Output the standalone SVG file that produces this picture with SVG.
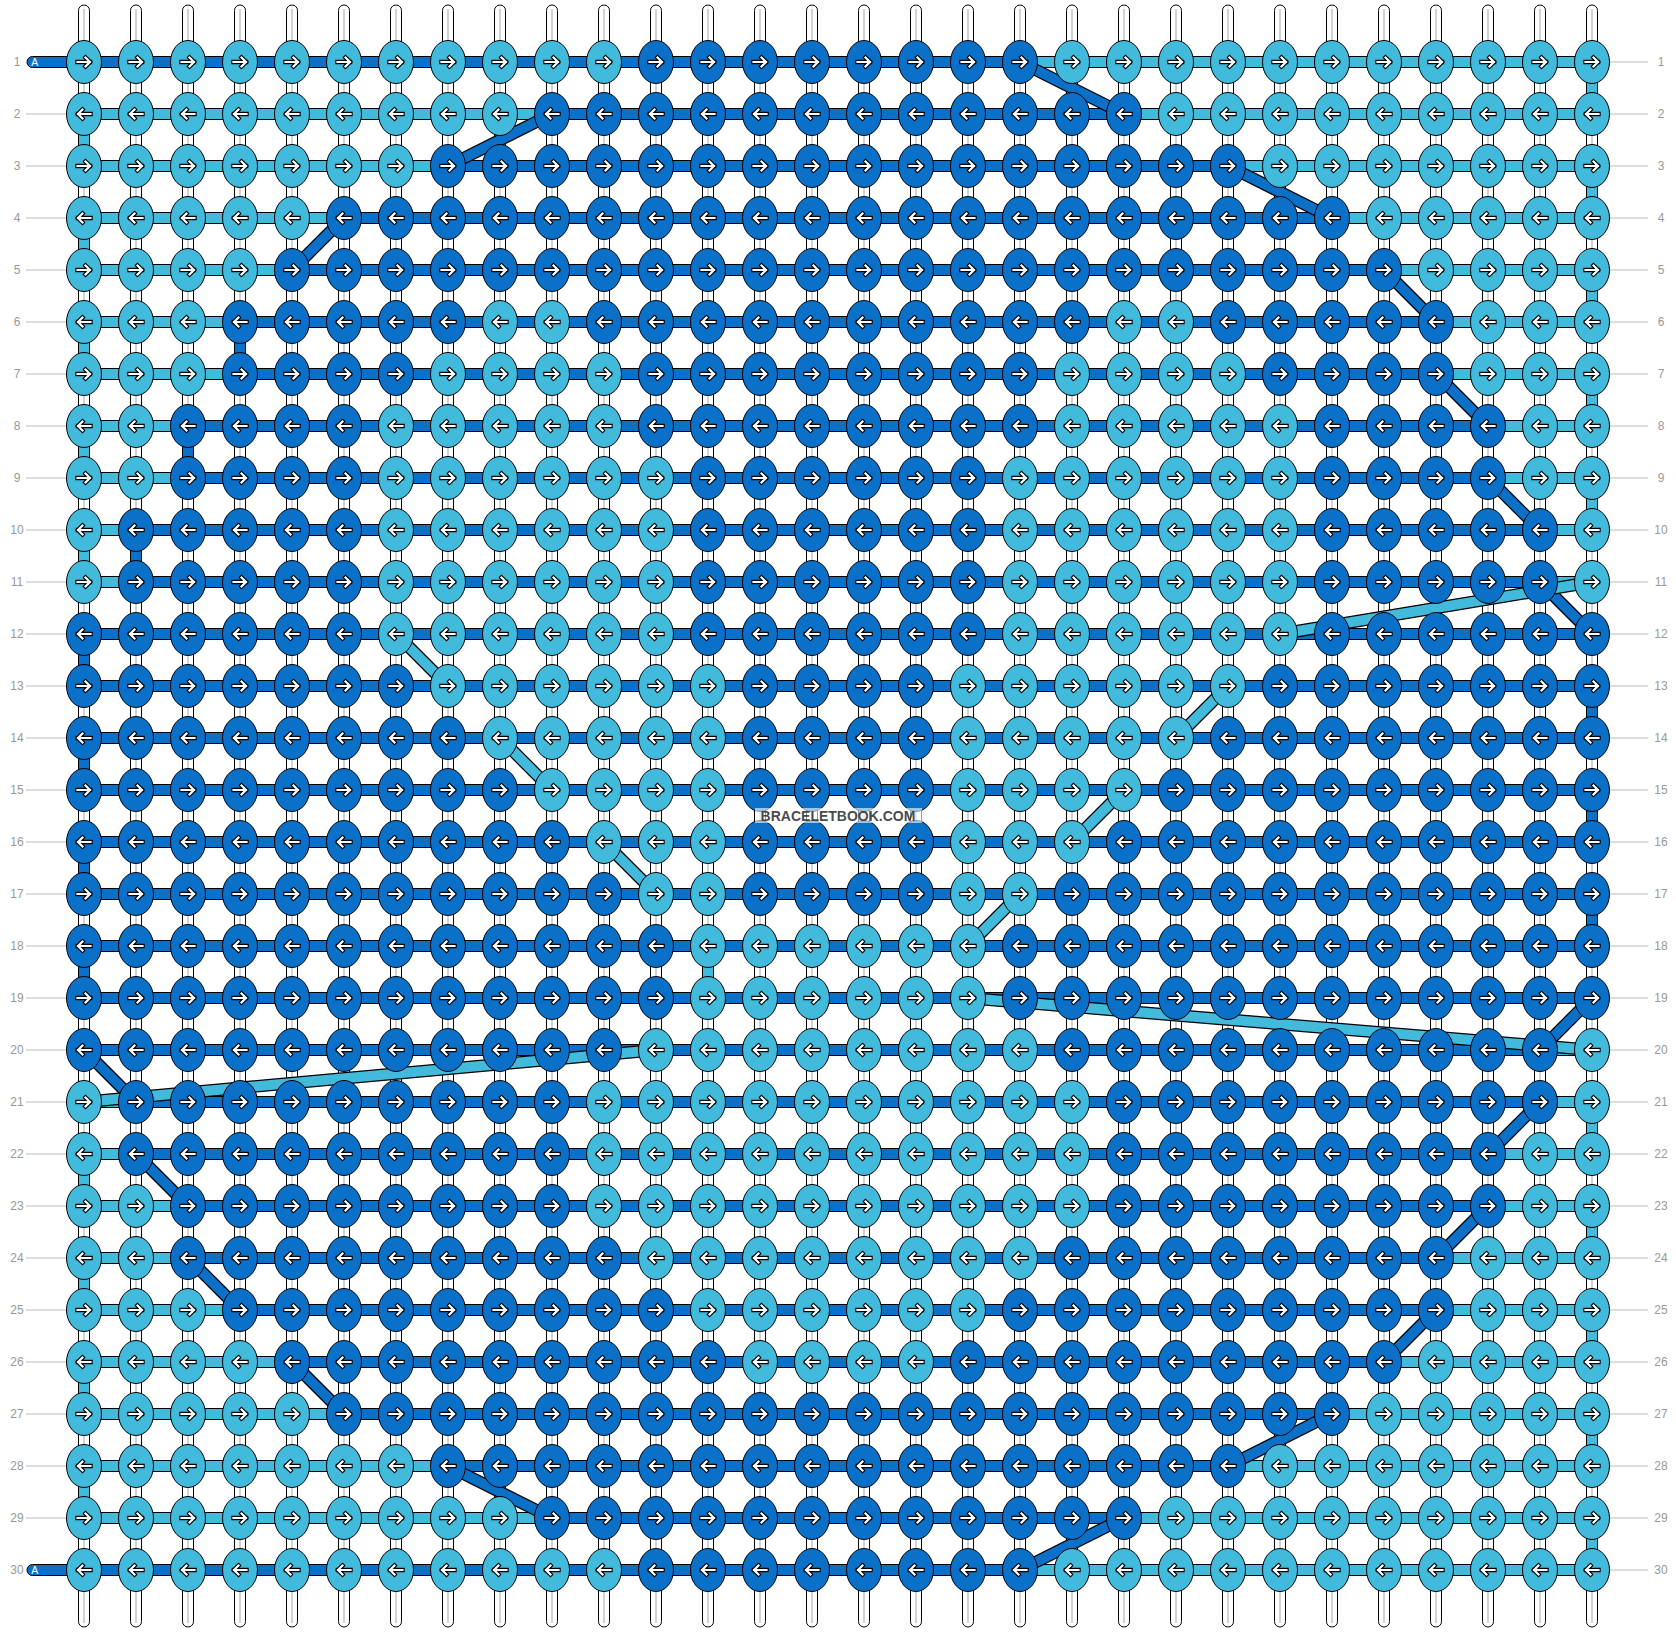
<svg xmlns="http://www.w3.org/2000/svg" xmlns:xlink="http://www.w3.org/1999/xlink" width="1676" height="1632" viewBox="0 0 1676 1632">
<style>
.d{fill:#0A70C8}
.l{fill:#42BADC}
.k{stroke:#000;stroke-width:1}
.bar{stroke:#000;stroke-width:1}
.lbl{font-family:"Liberation Sans",Arial,sans-serif;font-size:12px;fill:#999;text-anchor:middle}
.tick{stroke:#bbb;stroke-width:1}
.ao{fill:none;stroke:#000;stroke-width:4.4;stroke-linecap:square}
.ai{fill:none;stroke:#fff;stroke-width:2.2;stroke-linecap:square}
</style>
<defs>
<path id="ap" d="M-6.5,0H6M1.5,-4.5L6,0L1.5,4.5"/>
<g id="aR"><use href="#ap" class="ao"/><use href="#ap" class="ai"/></g>
<g id="dR"><ellipse rx="17.5" ry="21.5" class="d k"/><use href="#aR"/></g>
<g id="lR"><ellipse rx="17.5" ry="21.5" class="l k"/><use href="#aR"/></g>
<g id="dL"><ellipse rx="17.5" ry="21.5" class="d k"/><use href="#aR" transform="scale(-1,1)"/></g>
<g id="lL"><ellipse rx="17.5" ry="21.5" class="l k"/><use href="#aR" transform="scale(-1,1)"/></g>
<g id="st"><rect x="-5.5" y="5" width="11" height="1622" rx="5.5" fill="#fff" stroke="#000" stroke-width="1"/><line x1="0" y1="9" x2="0" y2="1623" stroke="#c4c4c4" stroke-width="1.5"/></g>
</defs>
<rect width="1676" height="1632" fill="#fff"/>
<g id="labels">
<g class="tick">
<path d="M26,114H66M26,166H66M26,218H66M26,270H66M26,322H66M26,374H66M26,426H66M26,478H66M26,530H66M26,582H66M26,634H66M26,686H66M26,738H66M26,790H66M26,842H66M26,894H66M26,946H66M26,998H66M26,1050H66M26,1102H66M26,1154H66M26,1206H66M26,1258H66M26,1310H66M26,1362H66M26,1414H66M26,1466H66M26,1518H66"/>
<path d="M1610,62H1648M1610,114H1648M1610,166H1648M1610,218H1648M1610,270H1648M1610,322H1648M1610,374H1648M1610,426H1648M1610,478H1648M1610,530H1648M1610,582H1648M1610,634H1648M1610,686H1648M1610,738H1648M1610,790H1648M1610,842H1648M1610,894H1648M1610,946H1648M1610,998H1648M1610,1050H1648M1610,1102H1648M1610,1154H1648M1610,1206H1648M1610,1258H1648M1610,1310H1648M1610,1362H1648M1610,1414H1648M1610,1466H1648M1610,1518H1648M1610,1570H1648"/>
</g>
<g class="lbl">
<text x="17" y="66">1</text><text x="17" y="118">2</text><text x="17" y="170">3</text><text x="17" y="222">4</text><text x="17" y="274">5</text><text x="17" y="326">6</text><text x="17" y="378">7</text><text x="17" y="430">8</text><text x="17" y="482">9</text><text x="17" y="534">10</text><text x="17" y="586">11</text><text x="17" y="638">12</text><text x="17" y="690">13</text><text x="17" y="742">14</text><text x="17" y="794">15</text><text x="17" y="846">16</text><text x="17" y="898">17</text><text x="17" y="950">18</text><text x="17" y="1002">19</text><text x="17" y="1054">20</text><text x="17" y="1106">21</text><text x="17" y="1158">22</text><text x="17" y="1210">23</text><text x="17" y="1262">24</text><text x="17" y="1314">25</text><text x="17" y="1366">26</text><text x="17" y="1418">27</text><text x="17" y="1470">28</text><text x="17" y="1522">29</text><text x="17" y="1574">30</text>
<text x="1661" y="66">1</text><text x="1661" y="118">2</text><text x="1661" y="170">3</text><text x="1661" y="222">4</text><text x="1661" y="274">5</text><text x="1661" y="326">6</text><text x="1661" y="378">7</text><text x="1661" y="430">8</text><text x="1661" y="482">9</text><text x="1661" y="534">10</text><text x="1661" y="586">11</text><text x="1661" y="638">12</text><text x="1661" y="690">13</text><text x="1661" y="742">14</text><text x="1661" y="794">15</text><text x="1661" y="846">16</text><text x="1661" y="898">17</text><text x="1661" y="950">18</text><text x="1661" y="1002">19</text><text x="1661" y="1054">20</text><text x="1661" y="1106">21</text><text x="1661" y="1158">22</text><text x="1661" y="1210">23</text><text x="1661" y="1262">24</text><text x="1661" y="1314">25</text><text x="1661" y="1366">26</text><text x="1661" y="1418">27</text><text x="1661" y="1470">28</text><text x="1661" y="1522">29</text><text x="1661" y="1574">30</text>
</g>
</g>
<g id="strands">
<use href="#st" x="84"/><use href="#st" x="136"/><use href="#st" x="188"/><use href="#st" x="240"/><use href="#st" x="292"/><use href="#st" x="344"/><use href="#st" x="396"/><use href="#st" x="448"/><use href="#st" x="500"/><use href="#st" x="552"/><use href="#st" x="604"/><use href="#st" x="656"/><use href="#st" x="708"/><use href="#st" x="760"/><use href="#st" x="812"/><use href="#st" x="864"/><use href="#st" x="916"/><use href="#st" x="968"/><use href="#st" x="1020"/><use href="#st" x="1072"/><use href="#st" x="1124"/><use href="#st" x="1176"/><use href="#st" x="1228"/><use href="#st" x="1280"/><use href="#st" x="1332"/><use href="#st" x="1384"/><use href="#st" x="1436"/><use href="#st" x="1488"/><use href="#st" x="1540"/><use href="#st" x="1592"/>
</g>
<g id="connectors">
<g id="bars" class="bar">
<rect class="d" x="27" y="56.5" width="993" height="11" rx="5.5"/><rect class="l" x="1020" y="56.5" width="572" height="11"/>
<rect class="l" x="84" y="108.5" width="468" height="11"/><rect class="d" x="552" y="108.5" width="572" height="11"/><rect class="l" x="1124" y="108.5" width="468" height="11"/>
<rect class="l" x="84" y="160.5" width="364" height="11"/><rect class="d" x="448" y="160.5" width="780" height="11"/><rect class="l" x="1228" y="160.5" width="364" height="11"/>
<rect class="l" x="84" y="212.5" width="260" height="11"/><rect class="d" x="344" y="212.5" width="988" height="11"/><rect class="l" x="1332" y="212.5" width="260" height="11"/>
<rect class="l" x="84" y="264.5" width="208" height="11"/><rect class="d" x="292" y="264.5" width="1092" height="11"/><rect class="l" x="1384" y="264.5" width="208" height="11"/>
<rect class="l" x="84" y="316.5" width="156" height="11"/><rect class="d" x="240" y="316.5" width="1196" height="11"/><rect class="l" x="1436" y="316.5" width="156" height="11"/>
<rect class="l" x="84" y="368.5" width="156" height="11"/><rect class="d" x="240" y="368.5" width="1196" height="11"/><rect class="l" x="1436" y="368.5" width="156" height="11"/>
<rect class="l" x="84" y="420.5" width="104" height="11"/><rect class="d" x="188" y="420.5" width="1300" height="11"/><rect class="l" x="1488" y="420.5" width="104" height="11"/>
<rect class="l" x="84" y="472.5" width="104" height="11"/><rect class="d" x="188" y="472.5" width="1300" height="11"/><rect class="l" x="1488" y="472.5" width="104" height="11"/>
<rect class="l" x="84" y="524.5" width="52" height="11"/><rect class="d" x="136" y="524.5" width="1404" height="11"/><rect class="l" x="1540" y="524.5" width="52" height="11"/>
<rect class="l" x="84" y="576.5" width="52" height="11"/><rect class="d" x="136" y="576.5" width="1404" height="11"/><rect class="l" x="1540" y="576.5" width="52" height="11"/>
<rect class="d" x="84" y="628.5" width="1508" height="11"/>
<rect class="d" x="84" y="680.5" width="1508" height="11"/>
<rect class="d" x="84" y="732.5" width="1508" height="11"/>
<rect class="d" x="84" y="784.5" width="1508" height="11"/>
<rect class="d" x="84" y="836.5" width="1508" height="11"/>
<rect class="d" x="84" y="888.5" width="1508" height="11"/>
<rect class="d" x="84" y="940.5" width="1508" height="11"/>
<rect class="d" x="84" y="992.5" width="1508" height="11"/>
<rect class="d" x="84" y="1044.5" width="1456" height="11"/><rect class="l" x="1540" y="1044.5" width="52" height="11"/>
<rect class="l" x="84" y="1096.5" width="52" height="11"/><rect class="d" x="136" y="1096.5" width="1404" height="11"/><rect class="l" x="1540" y="1096.5" width="52" height="11"/>
<rect class="l" x="84" y="1148.5" width="52" height="11"/><rect class="d" x="136" y="1148.5" width="1352" height="11"/><rect class="l" x="1488" y="1148.5" width="104" height="11"/>
<rect class="l" x="84" y="1200.5" width="104" height="11"/><rect class="d" x="188" y="1200.5" width="1300" height="11"/><rect class="l" x="1488" y="1200.5" width="104" height="11"/>
<rect class="l" x="84" y="1252.5" width="104" height="11"/><rect class="d" x="188" y="1252.5" width="1248" height="11"/><rect class="l" x="1436" y="1252.5" width="156" height="11"/>
<rect class="l" x="84" y="1304.5" width="156" height="11"/><rect class="d" x="240" y="1304.5" width="1196" height="11"/><rect class="l" x="1436" y="1304.5" width="156" height="11"/>
<rect class="l" x="84" y="1356.5" width="208" height="11"/><rect class="d" x="292" y="1356.5" width="1092" height="11"/><rect class="l" x="1384" y="1356.5" width="208" height="11"/>
<rect class="l" x="84" y="1408.5" width="260" height="11"/><rect class="d" x="344" y="1408.5" width="988" height="11"/><rect class="l" x="1332" y="1408.5" width="260" height="11"/>
<rect class="l" x="84" y="1460.5" width="364" height="11"/><rect class="d" x="448" y="1460.5" width="780" height="11"/><rect class="l" x="1228" y="1460.5" width="364" height="11"/>
<rect class="l" x="84" y="1512.5" width="468" height="11"/><rect class="d" x="552" y="1512.5" width="572" height="11"/><rect class="l" x="1124" y="1512.5" width="468" height="11"/>
<rect class="d" x="27" y="1564.5" width="993" height="11" rx="5.5"/><rect class="l" x="1020" y="1564.5" width="572" height="11"/>
</g>
<g id="turns" class="bar">
<rect class="d" x="234.5" y="322" width="11" height="52"/><rect class="d" x="182.5" y="426" width="11" height="52"/><rect class="d" x="130.5" y="530" width="11" height="52"/>
<rect class="d" x="78.5" y="634" width="11" height="52"/><rect class="d" x="78.5" y="738" width="11" height="52"/><rect class="d" x="78.5" y="842" width="11" height="52"/><rect class="d" x="78.5" y="946" width="11" height="52"/>
<rect class="d" x="1586.5" y="686" width="11" height="52"/><rect class="d" x="1586.5" y="790" width="11" height="52"/><rect class="d" x="1586.5" y="894" width="11" height="52"/>
<rect class="l" x="1586.5" y="62" width="11" height="52"/><rect class="l" x="1586.5" y="166" width="11" height="52"/><rect class="l" x="1586.5" y="270" width="11" height="52"/><rect class="l" x="1586.5" y="374" width="11" height="52"/><rect class="l" x="1586.5" y="478" width="11" height="52"/>
<rect class="l" x="1586.5" y="1102" width="11" height="52"/><rect class="l" x="1586.5" y="1206" width="11" height="52"/><rect class="l" x="1586.5" y="1310" width="11" height="52"/><rect class="l" x="1586.5" y="1414" width="11" height="52"/><rect class="l" x="1586.5" y="1518" width="11" height="52"/>
<rect class="l" x="78.5" y="114" width="11" height="52"/><rect class="l" x="78.5" y="218" width="11" height="52"/><rect class="l" x="78.5" y="322" width="11" height="52"/><rect class="l" x="78.5" y="426" width="11" height="52"/><rect class="l" x="78.5" y="530" width="11" height="52"/>
<rect class="l" x="78.5" y="1154" width="11" height="52"/><rect class="l" x="78.5" y="1258" width="11" height="52"/><rect class="l" x="78.5" y="1362" width="11" height="52"/><rect class="l" x="78.5" y="1466" width="11" height="52"/>
<rect class="l" x="702.5" y="946" width="11" height="52"/>
</g>
<g id="diagonals" fill="none">
<path stroke="#000" stroke-width="12.5" d="M1020,62L1124,114M552,114L448,166M1228,166L1332,218M344,218L292,270M1384,270L1436,322M1436,374L1488,426M1488,478L1540,530M1540,582L1592,634M1592,998L1540,1050M84,1050L136,1102M1540,1102L1488,1154M136,1154L188,1206M1488,1206L1436,1258M188,1258L240,1310M1436,1310L1384,1362M292,1362L344,1414M1332,1414L1228,1466M448,1466L552,1518M1124,1518L1020,1570"/>
<path stroke="#0A70C8" stroke-width="10" d="M1020,62L1124,114M552,114L448,166M1228,166L1332,218M344,218L292,270M1384,270L1436,322M1436,374L1488,426M1488,478L1540,530M1540,582L1592,634M1592,998L1540,1050M84,1050L136,1102M1540,1102L1488,1154M136,1154L188,1206M1488,1206L1436,1258M188,1258L240,1310M1436,1310L1384,1362M292,1362L344,1414M1332,1414L1228,1466M448,1466L552,1518M1124,1518L1020,1570"/>
<path stroke="#000" stroke-width="12.5" d="M1592,582L1280,634M396,634L448,686M1228,686L1176,738M500,738L552,790M1124,790L1072,842M604,842L656,894M1020,894L968,946M968,998L1592,1050M656,1050L84,1102"/>
<path stroke="#42BADC" stroke-width="10" d="M1592,582L1280,634M396,634L448,686M1228,686L1176,738M500,738L552,790M1124,790L1072,842M604,842L656,894M1020,894L968,946M968,998L1592,1050M656,1050L84,1102"/>
</g>
</g>
<g id="ends" font-family="Liberation Sans, Arial, sans-serif" font-size="10.5" fill="#fff" text-anchor="middle">
<text x="34.7" y="65.8">A</text>
<text x="34.7" y="1573.8">A</text>
</g>
<g id="knots">
<g id="row1" transform="translate(0 62)">
<use id="k1-1" href="#lR" x="84"/><use id="k1-2" href="#lR" x="136"/><use id="k1-3" href="#lR" x="188"/><use id="k1-4" href="#lR" x="240"/><use id="k1-5" href="#lR" x="292"/><use id="k1-6" href="#lR" x="344"/><use id="k1-7" href="#lR" x="396"/><use id="k1-8" href="#lR" x="448"/><use id="k1-9" href="#lR" x="500"/><use id="k1-10" href="#lR" x="552"/><use id="k1-11" href="#lR" x="604"/><use id="k1-12" href="#dR" x="656"/><use id="k1-13" href="#dR" x="708"/><use id="k1-14" href="#dR" x="760"/><use id="k1-15" href="#dR" x="812"/><use id="k1-16" href="#dR" x="864"/><use id="k1-17" href="#dR" x="916"/><use id="k1-18" href="#dR" x="968"/><use id="k1-19" href="#dR" x="1020"/><use id="k1-20" href="#lR" x="1072"/><use id="k1-21" href="#lR" x="1124"/><use id="k1-22" href="#lR" x="1176"/><use id="k1-23" href="#lR" x="1228"/><use id="k1-24" href="#lR" x="1280"/><use id="k1-25" href="#lR" x="1332"/><use id="k1-26" href="#lR" x="1384"/><use id="k1-27" href="#lR" x="1436"/><use id="k1-28" href="#lR" x="1488"/><use id="k1-29" href="#lR" x="1540"/><use id="k1-30" href="#lR" x="1592"/>
</g>
<g id="row2" transform="translate(0 114)">
<use id="k2-1" href="#lL" x="84"/><use id="k2-2" href="#lL" x="136"/><use id="k2-3" href="#lL" x="188"/><use id="k2-4" href="#lL" x="240"/><use id="k2-5" href="#lL" x="292"/><use id="k2-6" href="#lL" x="344"/><use id="k2-7" href="#lL" x="396"/><use id="k2-8" href="#lL" x="448"/><use id="k2-9" href="#lL" x="500"/><use id="k2-10" href="#dL" x="552"/><use id="k2-11" href="#dL" x="604"/><use id="k2-12" href="#dL" x="656"/><use id="k2-13" href="#dL" x="708"/><use id="k2-14" href="#dL" x="760"/><use id="k2-15" href="#dL" x="812"/><use id="k2-16" href="#dL" x="864"/><use id="k2-17" href="#dL" x="916"/><use id="k2-18" href="#dL" x="968"/><use id="k2-19" href="#dL" x="1020"/><use id="k2-20" href="#dL" x="1072"/><use id="k2-21" href="#dL" x="1124"/><use id="k2-22" href="#lL" x="1176"/><use id="k2-23" href="#lL" x="1228"/><use id="k2-24" href="#lL" x="1280"/><use id="k2-25" href="#lL" x="1332"/><use id="k2-26" href="#lL" x="1384"/><use id="k2-27" href="#lL" x="1436"/><use id="k2-28" href="#lL" x="1488"/><use id="k2-29" href="#lL" x="1540"/><use id="k2-30" href="#lL" x="1592"/>
</g>
<g id="row3" transform="translate(0 166)">
<use id="k3-1" href="#lR" x="84"/><use id="k3-2" href="#lR" x="136"/><use id="k3-3" href="#lR" x="188"/><use id="k3-4" href="#lR" x="240"/><use id="k3-5" href="#lR" x="292"/><use id="k3-6" href="#lR" x="344"/><use id="k3-7" href="#lR" x="396"/><use id="k3-8" href="#dR" x="448"/><use id="k3-9" href="#dR" x="500"/><use id="k3-10" href="#dR" x="552"/><use id="k3-11" href="#dR" x="604"/><use id="k3-12" href="#dR" x="656"/><use id="k3-13" href="#dR" x="708"/><use id="k3-14" href="#dR" x="760"/><use id="k3-15" href="#dR" x="812"/><use id="k3-16" href="#dR" x="864"/><use id="k3-17" href="#dR" x="916"/><use id="k3-18" href="#dR" x="968"/><use id="k3-19" href="#dR" x="1020"/><use id="k3-20" href="#dR" x="1072"/><use id="k3-21" href="#dR" x="1124"/><use id="k3-22" href="#dR" x="1176"/><use id="k3-23" href="#dR" x="1228"/><use id="k3-24" href="#lR" x="1280"/><use id="k3-25" href="#lR" x="1332"/><use id="k3-26" href="#lR" x="1384"/><use id="k3-27" href="#lR" x="1436"/><use id="k3-28" href="#lR" x="1488"/><use id="k3-29" href="#lR" x="1540"/><use id="k3-30" href="#lR" x="1592"/>
</g>
<g id="row4" transform="translate(0 218)">
<use id="k4-1" href="#lL" x="84"/><use id="k4-2" href="#lL" x="136"/><use id="k4-3" href="#lL" x="188"/><use id="k4-4" href="#lL" x="240"/><use id="k4-5" href="#lL" x="292"/><use id="k4-6" href="#dL" x="344"/><use id="k4-7" href="#dL" x="396"/><use id="k4-8" href="#dL" x="448"/><use id="k4-9" href="#dL" x="500"/><use id="k4-10" href="#dL" x="552"/><use id="k4-11" href="#dL" x="604"/><use id="k4-12" href="#dL" x="656"/><use id="k4-13" href="#dL" x="708"/><use id="k4-14" href="#dL" x="760"/><use id="k4-15" href="#dL" x="812"/><use id="k4-16" href="#dL" x="864"/><use id="k4-17" href="#dL" x="916"/><use id="k4-18" href="#dL" x="968"/><use id="k4-19" href="#dL" x="1020"/><use id="k4-20" href="#dL" x="1072"/><use id="k4-21" href="#dL" x="1124"/><use id="k4-22" href="#dL" x="1176"/><use id="k4-23" href="#dL" x="1228"/><use id="k4-24" href="#dL" x="1280"/><use id="k4-25" href="#dL" x="1332"/><use id="k4-26" href="#lL" x="1384"/><use id="k4-27" href="#lL" x="1436"/><use id="k4-28" href="#lL" x="1488"/><use id="k4-29" href="#lL" x="1540"/><use id="k4-30" href="#lL" x="1592"/>
</g>
<g id="row5" transform="translate(0 270)">
<use id="k5-1" href="#lR" x="84"/><use id="k5-2" href="#lR" x="136"/><use id="k5-3" href="#lR" x="188"/><use id="k5-4" href="#lR" x="240"/><use id="k5-5" href="#dR" x="292"/><use id="k5-6" href="#dR" x="344"/><use id="k5-7" href="#dR" x="396"/><use id="k5-8" href="#dR" x="448"/><use id="k5-9" href="#dR" x="500"/><use id="k5-10" href="#dR" x="552"/><use id="k5-11" href="#dR" x="604"/><use id="k5-12" href="#dR" x="656"/><use id="k5-13" href="#dR" x="708"/><use id="k5-14" href="#dR" x="760"/><use id="k5-15" href="#dR" x="812"/><use id="k5-16" href="#dR" x="864"/><use id="k5-17" href="#dR" x="916"/><use id="k5-18" href="#dR" x="968"/><use id="k5-19" href="#dR" x="1020"/><use id="k5-20" href="#dR" x="1072"/><use id="k5-21" href="#dR" x="1124"/><use id="k5-22" href="#dR" x="1176"/><use id="k5-23" href="#dR" x="1228"/><use id="k5-24" href="#dR" x="1280"/><use id="k5-25" href="#dR" x="1332"/><use id="k5-26" href="#dR" x="1384"/><use id="k5-27" href="#lR" x="1436"/><use id="k5-28" href="#lR" x="1488"/><use id="k5-29" href="#lR" x="1540"/><use id="k5-30" href="#lR" x="1592"/>
</g>
<g id="row6" transform="translate(0 322)">
<use id="k6-1" href="#lL" x="84"/><use id="k6-2" href="#lL" x="136"/><use id="k6-3" href="#lL" x="188"/><use id="k6-4" href="#dL" x="240"/><use id="k6-5" href="#dL" x="292"/><use id="k6-6" href="#dL" x="344"/><use id="k6-7" href="#dL" x="396"/><use id="k6-8" href="#dL" x="448"/><use id="k6-9" href="#lL" x="500"/><use id="k6-10" href="#lL" x="552"/><use id="k6-11" href="#dL" x="604"/><use id="k6-12" href="#dL" x="656"/><use id="k6-13" href="#dL" x="708"/><use id="k6-14" href="#dL" x="760"/><use id="k6-15" href="#dL" x="812"/><use id="k6-16" href="#dL" x="864"/><use id="k6-17" href="#dL" x="916"/><use id="k6-18" href="#dL" x="968"/><use id="k6-19" href="#dL" x="1020"/><use id="k6-20" href="#dL" x="1072"/><use id="k6-21" href="#lL" x="1124"/><use id="k6-22" href="#lL" x="1176"/><use id="k6-23" href="#dL" x="1228"/><use id="k6-24" href="#dL" x="1280"/><use id="k6-25" href="#dL" x="1332"/><use id="k6-26" href="#dL" x="1384"/><use id="k6-27" href="#dL" x="1436"/><use id="k6-28" href="#lL" x="1488"/><use id="k6-29" href="#lL" x="1540"/><use id="k6-30" href="#lL" x="1592"/>
</g>
<g id="row7" transform="translate(0 374)">
<use id="k7-1" href="#lR" x="84"/><use id="k7-2" href="#lR" x="136"/><use id="k7-3" href="#lR" x="188"/><use id="k7-4" href="#dR" x="240"/><use id="k7-5" href="#dR" x="292"/><use id="k7-6" href="#dR" x="344"/><use id="k7-7" href="#dR" x="396"/><use id="k7-8" href="#lR" x="448"/><use id="k7-9" href="#lR" x="500"/><use id="k7-10" href="#lR" x="552"/><use id="k7-11" href="#lR" x="604"/><use id="k7-12" href="#dR" x="656"/><use id="k7-13" href="#dR" x="708"/><use id="k7-14" href="#dR" x="760"/><use id="k7-15" href="#dR" x="812"/><use id="k7-16" href="#dR" x="864"/><use id="k7-17" href="#dR" x="916"/><use id="k7-18" href="#dR" x="968"/><use id="k7-19" href="#dR" x="1020"/><use id="k7-20" href="#lR" x="1072"/><use id="k7-21" href="#lR" x="1124"/><use id="k7-22" href="#lR" x="1176"/><use id="k7-23" href="#lR" x="1228"/><use id="k7-24" href="#dR" x="1280"/><use id="k7-25" href="#dR" x="1332"/><use id="k7-26" href="#dR" x="1384"/><use id="k7-27" href="#dR" x="1436"/><use id="k7-28" href="#lR" x="1488"/><use id="k7-29" href="#lR" x="1540"/><use id="k7-30" href="#lR" x="1592"/>
</g>
<g id="row8" transform="translate(0 426)">
<use id="k8-1" href="#lL" x="84"/><use id="k8-2" href="#lL" x="136"/><use id="k8-3" href="#dL" x="188"/><use id="k8-4" href="#dL" x="240"/><use id="k8-5" href="#dL" x="292"/><use id="k8-6" href="#dL" x="344"/><use id="k8-7" href="#lL" x="396"/><use id="k8-8" href="#lL" x="448"/><use id="k8-9" href="#lL" x="500"/><use id="k8-10" href="#lL" x="552"/><use id="k8-11" href="#lL" x="604"/><use id="k8-12" href="#dL" x="656"/><use id="k8-13" href="#dL" x="708"/><use id="k8-14" href="#dL" x="760"/><use id="k8-15" href="#dL" x="812"/><use id="k8-16" href="#dL" x="864"/><use id="k8-17" href="#dL" x="916"/><use id="k8-18" href="#dL" x="968"/><use id="k8-19" href="#dL" x="1020"/><use id="k8-20" href="#lL" x="1072"/><use id="k8-21" href="#lL" x="1124"/><use id="k8-22" href="#lL" x="1176"/><use id="k8-23" href="#lL" x="1228"/><use id="k8-24" href="#lL" x="1280"/><use id="k8-25" href="#dL" x="1332"/><use id="k8-26" href="#dL" x="1384"/><use id="k8-27" href="#dL" x="1436"/><use id="k8-28" href="#dL" x="1488"/><use id="k8-29" href="#lL" x="1540"/><use id="k8-30" href="#lL" x="1592"/>
</g>
<g id="row9" transform="translate(0 478)">
<use id="k9-1" href="#lR" x="84"/><use id="k9-2" href="#lR" x="136"/><use id="k9-3" href="#dR" x="188"/><use id="k9-4" href="#dR" x="240"/><use id="k9-5" href="#dR" x="292"/><use id="k9-6" href="#dR" x="344"/><use id="k9-7" href="#lR" x="396"/><use id="k9-8" href="#lR" x="448"/><use id="k9-9" href="#lR" x="500"/><use id="k9-10" href="#lR" x="552"/><use id="k9-11" href="#lR" x="604"/><use id="k9-12" href="#lR" x="656"/><use id="k9-13" href="#dR" x="708"/><use id="k9-14" href="#dR" x="760"/><use id="k9-15" href="#dR" x="812"/><use id="k9-16" href="#dR" x="864"/><use id="k9-17" href="#dR" x="916"/><use id="k9-18" href="#dR" x="968"/><use id="k9-19" href="#lR" x="1020"/><use id="k9-20" href="#lR" x="1072"/><use id="k9-21" href="#lR" x="1124"/><use id="k9-22" href="#lR" x="1176"/><use id="k9-23" href="#lR" x="1228"/><use id="k9-24" href="#lR" x="1280"/><use id="k9-25" href="#dR" x="1332"/><use id="k9-26" href="#dR" x="1384"/><use id="k9-27" href="#dR" x="1436"/><use id="k9-28" href="#dR" x="1488"/><use id="k9-29" href="#lR" x="1540"/><use id="k9-30" href="#lR" x="1592"/>
</g>
<g id="row10" transform="translate(0 530)">
<use id="k10-1" href="#lL" x="84"/><use id="k10-2" href="#dL" x="136"/><use id="k10-3" href="#dL" x="188"/><use id="k10-4" href="#dL" x="240"/><use id="k10-5" href="#dL" x="292"/><use id="k10-6" href="#dL" x="344"/><use id="k10-7" href="#lL" x="396"/><use id="k10-8" href="#lL" x="448"/><use id="k10-9" href="#lL" x="500"/><use id="k10-10" href="#lL" x="552"/><use id="k10-11" href="#lL" x="604"/><use id="k10-12" href="#lL" x="656"/><use id="k10-13" href="#dL" x="708"/><use id="k10-14" href="#dL" x="760"/><use id="k10-15" href="#dL" x="812"/><use id="k10-16" href="#dL" x="864"/><use id="k10-17" href="#dL" x="916"/><use id="k10-18" href="#dL" x="968"/><use id="k10-19" href="#lL" x="1020"/><use id="k10-20" href="#lL" x="1072"/><use id="k10-21" href="#lL" x="1124"/><use id="k10-22" href="#lL" x="1176"/><use id="k10-23" href="#lL" x="1228"/><use id="k10-24" href="#lL" x="1280"/><use id="k10-25" href="#dL" x="1332"/><use id="k10-26" href="#dL" x="1384"/><use id="k10-27" href="#dL" x="1436"/><use id="k10-28" href="#dL" x="1488"/><use id="k10-29" href="#dL" x="1540"/><use id="k10-30" href="#lL" x="1592"/>
</g>
<g id="row11" transform="translate(0 582)">
<use id="k11-1" href="#lR" x="84"/><use id="k11-2" href="#dR" x="136"/><use id="k11-3" href="#dR" x="188"/><use id="k11-4" href="#dR" x="240"/><use id="k11-5" href="#dR" x="292"/><use id="k11-6" href="#dR" x="344"/><use id="k11-7" href="#lR" x="396"/><use id="k11-8" href="#lR" x="448"/><use id="k11-9" href="#lR" x="500"/><use id="k11-10" href="#lR" x="552"/><use id="k11-11" href="#lR" x="604"/><use id="k11-12" href="#lR" x="656"/><use id="k11-13" href="#dR" x="708"/><use id="k11-14" href="#dR" x="760"/><use id="k11-15" href="#dR" x="812"/><use id="k11-16" href="#dR" x="864"/><use id="k11-17" href="#dR" x="916"/><use id="k11-18" href="#dR" x="968"/><use id="k11-19" href="#lR" x="1020"/><use id="k11-20" href="#lR" x="1072"/><use id="k11-21" href="#lR" x="1124"/><use id="k11-22" href="#lR" x="1176"/><use id="k11-23" href="#lR" x="1228"/><use id="k11-24" href="#lR" x="1280"/><use id="k11-25" href="#dR" x="1332"/><use id="k11-26" href="#dR" x="1384"/><use id="k11-27" href="#dR" x="1436"/><use id="k11-28" href="#dR" x="1488"/><use id="k11-29" href="#dR" x="1540"/><use id="k11-30" href="#lR" x="1592"/>
</g>
<g id="row12" transform="translate(0 634)">
<use id="k12-1" href="#dL" x="84"/><use id="k12-2" href="#dL" x="136"/><use id="k12-3" href="#dL" x="188"/><use id="k12-4" href="#dL" x="240"/><use id="k12-5" href="#dL" x="292"/><use id="k12-6" href="#dL" x="344"/><use id="k12-7" href="#lL" x="396"/><use id="k12-8" href="#lL" x="448"/><use id="k12-9" href="#lL" x="500"/><use id="k12-10" href="#lL" x="552"/><use id="k12-11" href="#lL" x="604"/><use id="k12-12" href="#lL" x="656"/><use id="k12-13" href="#dL" x="708"/><use id="k12-14" href="#dL" x="760"/><use id="k12-15" href="#dL" x="812"/><use id="k12-16" href="#dL" x="864"/><use id="k12-17" href="#dL" x="916"/><use id="k12-18" href="#dL" x="968"/><use id="k12-19" href="#lL" x="1020"/><use id="k12-20" href="#lL" x="1072"/><use id="k12-21" href="#lL" x="1124"/><use id="k12-22" href="#lL" x="1176"/><use id="k12-23" href="#lL" x="1228"/><use id="k12-24" href="#lL" x="1280"/><use id="k12-25" href="#dL" x="1332"/><use id="k12-26" href="#dL" x="1384"/><use id="k12-27" href="#dL" x="1436"/><use id="k12-28" href="#dL" x="1488"/><use id="k12-29" href="#dL" x="1540"/><use id="k12-30" href="#dL" x="1592"/>
</g>
<g id="row13" transform="translate(0 686)">
<use id="k13-1" href="#dR" x="84"/><use id="k13-2" href="#dR" x="136"/><use id="k13-3" href="#dR" x="188"/><use id="k13-4" href="#dR" x="240"/><use id="k13-5" href="#dR" x="292"/><use id="k13-6" href="#dR" x="344"/><use id="k13-7" href="#dR" x="396"/><use id="k13-8" href="#lR" x="448"/><use id="k13-9" href="#lR" x="500"/><use id="k13-10" href="#lR" x="552"/><use id="k13-11" href="#lR" x="604"/><use id="k13-12" href="#lR" x="656"/><use id="k13-13" href="#lR" x="708"/><use id="k13-14" href="#dR" x="760"/><use id="k13-15" href="#dR" x="812"/><use id="k13-16" href="#dR" x="864"/><use id="k13-17" href="#dR" x="916"/><use id="k13-18" href="#lR" x="968"/><use id="k13-19" href="#lR" x="1020"/><use id="k13-20" href="#lR" x="1072"/><use id="k13-21" href="#lR" x="1124"/><use id="k13-22" href="#lR" x="1176"/><use id="k13-23" href="#lR" x="1228"/><use id="k13-24" href="#dR" x="1280"/><use id="k13-25" href="#dR" x="1332"/><use id="k13-26" href="#dR" x="1384"/><use id="k13-27" href="#dR" x="1436"/><use id="k13-28" href="#dR" x="1488"/><use id="k13-29" href="#dR" x="1540"/><use id="k13-30" href="#dR" x="1592"/>
</g>
<g id="row14" transform="translate(0 738)">
<use id="k14-1" href="#dL" x="84"/><use id="k14-2" href="#dL" x="136"/><use id="k14-3" href="#dL" x="188"/><use id="k14-4" href="#dL" x="240"/><use id="k14-5" href="#dL" x="292"/><use id="k14-6" href="#dL" x="344"/><use id="k14-7" href="#dL" x="396"/><use id="k14-8" href="#dL" x="448"/><use id="k14-9" href="#lL" x="500"/><use id="k14-10" href="#lL" x="552"/><use id="k14-11" href="#lL" x="604"/><use id="k14-12" href="#lL" x="656"/><use id="k14-13" href="#lL" x="708"/><use id="k14-14" href="#dL" x="760"/><use id="k14-15" href="#dL" x="812"/><use id="k14-16" href="#dL" x="864"/><use id="k14-17" href="#dL" x="916"/><use id="k14-18" href="#lL" x="968"/><use id="k14-19" href="#lL" x="1020"/><use id="k14-20" href="#lL" x="1072"/><use id="k14-21" href="#lL" x="1124"/><use id="k14-22" href="#lL" x="1176"/><use id="k14-23" href="#dL" x="1228"/><use id="k14-24" href="#dL" x="1280"/><use id="k14-25" href="#dL" x="1332"/><use id="k14-26" href="#dL" x="1384"/><use id="k14-27" href="#dL" x="1436"/><use id="k14-28" href="#dL" x="1488"/><use id="k14-29" href="#dL" x="1540"/><use id="k14-30" href="#dL" x="1592"/>
</g>
<g id="row15" transform="translate(0 790)">
<use id="k15-1" href="#dR" x="84"/><use id="k15-2" href="#dR" x="136"/><use id="k15-3" href="#dR" x="188"/><use id="k15-4" href="#dR" x="240"/><use id="k15-5" href="#dR" x="292"/><use id="k15-6" href="#dR" x="344"/><use id="k15-7" href="#dR" x="396"/><use id="k15-8" href="#dR" x="448"/><use id="k15-9" href="#dR" x="500"/><use id="k15-10" href="#lR" x="552"/><use id="k15-11" href="#lR" x="604"/><use id="k15-12" href="#lR" x="656"/><use id="k15-13" href="#lR" x="708"/><use id="k15-14" href="#dR" x="760"/><use id="k15-15" href="#dR" x="812"/><use id="k15-16" href="#dR" x="864"/><use id="k15-17" href="#dR" x="916"/><use id="k15-18" href="#lR" x="968"/><use id="k15-19" href="#lR" x="1020"/><use id="k15-20" href="#lR" x="1072"/><use id="k15-21" href="#lR" x="1124"/><use id="k15-22" href="#dR" x="1176"/><use id="k15-23" href="#dR" x="1228"/><use id="k15-24" href="#dR" x="1280"/><use id="k15-25" href="#dR" x="1332"/><use id="k15-26" href="#dR" x="1384"/><use id="k15-27" href="#dR" x="1436"/><use id="k15-28" href="#dR" x="1488"/><use id="k15-29" href="#dR" x="1540"/><use id="k15-30" href="#dR" x="1592"/>
</g>
<g id="row16" transform="translate(0 842)">
<use id="k16-1" href="#dL" x="84"/><use id="k16-2" href="#dL" x="136"/><use id="k16-3" href="#dL" x="188"/><use id="k16-4" href="#dL" x="240"/><use id="k16-5" href="#dL" x="292"/><use id="k16-6" href="#dL" x="344"/><use id="k16-7" href="#dL" x="396"/><use id="k16-8" href="#dL" x="448"/><use id="k16-9" href="#dL" x="500"/><use id="k16-10" href="#dL" x="552"/><use id="k16-11" href="#lL" x="604"/><use id="k16-12" href="#lL" x="656"/><use id="k16-13" href="#lL" x="708"/><use id="k16-14" href="#dL" x="760"/><use id="k16-15" href="#dL" x="812"/><use id="k16-16" href="#dL" x="864"/><use id="k16-17" href="#dL" x="916"/><use id="k16-18" href="#lL" x="968"/><use id="k16-19" href="#lL" x="1020"/><use id="k16-20" href="#lL" x="1072"/><use id="k16-21" href="#dL" x="1124"/><use id="k16-22" href="#dL" x="1176"/><use id="k16-23" href="#dL" x="1228"/><use id="k16-24" href="#dL" x="1280"/><use id="k16-25" href="#dL" x="1332"/><use id="k16-26" href="#dL" x="1384"/><use id="k16-27" href="#dL" x="1436"/><use id="k16-28" href="#dL" x="1488"/><use id="k16-29" href="#dL" x="1540"/><use id="k16-30" href="#dL" x="1592"/>
</g>
<g id="row17" transform="translate(0 894)">
<use id="k17-1" href="#dR" x="84"/><use id="k17-2" href="#dR" x="136"/><use id="k17-3" href="#dR" x="188"/><use id="k17-4" href="#dR" x="240"/><use id="k17-5" href="#dR" x="292"/><use id="k17-6" href="#dR" x="344"/><use id="k17-7" href="#dR" x="396"/><use id="k17-8" href="#dR" x="448"/><use id="k17-9" href="#dR" x="500"/><use id="k17-10" href="#dR" x="552"/><use id="k17-11" href="#dR" x="604"/><use id="k17-12" href="#lR" x="656"/><use id="k17-13" href="#lR" x="708"/><use id="k17-14" href="#dR" x="760"/><use id="k17-15" href="#dR" x="812"/><use id="k17-16" href="#dR" x="864"/><use id="k17-17" href="#dR" x="916"/><use id="k17-18" href="#lR" x="968"/><use id="k17-19" href="#lR" x="1020"/><use id="k17-20" href="#dR" x="1072"/><use id="k17-21" href="#dR" x="1124"/><use id="k17-22" href="#dR" x="1176"/><use id="k17-23" href="#dR" x="1228"/><use id="k17-24" href="#dR" x="1280"/><use id="k17-25" href="#dR" x="1332"/><use id="k17-26" href="#dR" x="1384"/><use id="k17-27" href="#dR" x="1436"/><use id="k17-28" href="#dR" x="1488"/><use id="k17-29" href="#dR" x="1540"/><use id="k17-30" href="#dR" x="1592"/>
</g>
<g id="row18" transform="translate(0 946)">
<use id="k18-1" href="#dL" x="84"/><use id="k18-2" href="#dL" x="136"/><use id="k18-3" href="#dL" x="188"/><use id="k18-4" href="#dL" x="240"/><use id="k18-5" href="#dL" x="292"/><use id="k18-6" href="#dL" x="344"/><use id="k18-7" href="#dL" x="396"/><use id="k18-8" href="#dL" x="448"/><use id="k18-9" href="#dL" x="500"/><use id="k18-10" href="#dL" x="552"/><use id="k18-11" href="#dL" x="604"/><use id="k18-12" href="#dL" x="656"/><use id="k18-13" href="#lL" x="708"/><use id="k18-14" href="#lL" x="760"/><use id="k18-15" href="#lL" x="812"/><use id="k18-16" href="#lL" x="864"/><use id="k18-17" href="#lL" x="916"/><use id="k18-18" href="#lL" x="968"/><use id="k18-19" href="#dL" x="1020"/><use id="k18-20" href="#dL" x="1072"/><use id="k18-21" href="#dL" x="1124"/><use id="k18-22" href="#dL" x="1176"/><use id="k18-23" href="#dL" x="1228"/><use id="k18-24" href="#dL" x="1280"/><use id="k18-25" href="#dL" x="1332"/><use id="k18-26" href="#dL" x="1384"/><use id="k18-27" href="#dL" x="1436"/><use id="k18-28" href="#dL" x="1488"/><use id="k18-29" href="#dL" x="1540"/><use id="k18-30" href="#dL" x="1592"/>
</g>
<g id="row19" transform="translate(0 998)">
<use id="k19-1" href="#dR" x="84"/><use id="k19-2" href="#dR" x="136"/><use id="k19-3" href="#dR" x="188"/><use id="k19-4" href="#dR" x="240"/><use id="k19-5" href="#dR" x="292"/><use id="k19-6" href="#dR" x="344"/><use id="k19-7" href="#dR" x="396"/><use id="k19-8" href="#dR" x="448"/><use id="k19-9" href="#dR" x="500"/><use id="k19-10" href="#dR" x="552"/><use id="k19-11" href="#dR" x="604"/><use id="k19-12" href="#dR" x="656"/><use id="k19-13" href="#lR" x="708"/><use id="k19-14" href="#lR" x="760"/><use id="k19-15" href="#lR" x="812"/><use id="k19-16" href="#lR" x="864"/><use id="k19-17" href="#lR" x="916"/><use id="k19-18" href="#lR" x="968"/><use id="k19-19" href="#dR" x="1020"/><use id="k19-20" href="#dR" x="1072"/><use id="k19-21" href="#dR" x="1124"/><use id="k19-22" href="#dR" x="1176"/><use id="k19-23" href="#dR" x="1228"/><use id="k19-24" href="#dR" x="1280"/><use id="k19-25" href="#dR" x="1332"/><use id="k19-26" href="#dR" x="1384"/><use id="k19-27" href="#dR" x="1436"/><use id="k19-28" href="#dR" x="1488"/><use id="k19-29" href="#dR" x="1540"/><use id="k19-30" href="#dR" x="1592"/>
</g>
<g id="row20" transform="translate(0 1050)">
<use id="k20-1" href="#dL" x="84"/><use id="k20-2" href="#dL" x="136"/><use id="k20-3" href="#dL" x="188"/><use id="k20-4" href="#dL" x="240"/><use id="k20-5" href="#dL" x="292"/><use id="k20-6" href="#dL" x="344"/><use id="k20-7" href="#dL" x="396"/><use id="k20-8" href="#dL" x="448"/><use id="k20-9" href="#dL" x="500"/><use id="k20-10" href="#dL" x="552"/><use id="k20-11" href="#dL" x="604"/><use id="k20-12" href="#lL" x="656"/><use id="k20-13" href="#lL" x="708"/><use id="k20-14" href="#lL" x="760"/><use id="k20-15" href="#lL" x="812"/><use id="k20-16" href="#lL" x="864"/><use id="k20-17" href="#lL" x="916"/><use id="k20-18" href="#lL" x="968"/><use id="k20-19" href="#lL" x="1020"/><use id="k20-20" href="#dL" x="1072"/><use id="k20-21" href="#dL" x="1124"/><use id="k20-22" href="#dL" x="1176"/><use id="k20-23" href="#dL" x="1228"/><use id="k20-24" href="#dL" x="1280"/><use id="k20-25" href="#dL" x="1332"/><use id="k20-26" href="#dL" x="1384"/><use id="k20-27" href="#dL" x="1436"/><use id="k20-28" href="#dL" x="1488"/><use id="k20-29" href="#dL" x="1540"/><use id="k20-30" href="#lL" x="1592"/>
</g>
<g id="row21" transform="translate(0 1102)">
<use id="k21-1" href="#lR" x="84"/><use id="k21-2" href="#dR" x="136"/><use id="k21-3" href="#dR" x="188"/><use id="k21-4" href="#dR" x="240"/><use id="k21-5" href="#dR" x="292"/><use id="k21-6" href="#dR" x="344"/><use id="k21-7" href="#dR" x="396"/><use id="k21-8" href="#dR" x="448"/><use id="k21-9" href="#dR" x="500"/><use id="k21-10" href="#dR" x="552"/><use id="k21-11" href="#lR" x="604"/><use id="k21-12" href="#lR" x="656"/><use id="k21-13" href="#lR" x="708"/><use id="k21-14" href="#lR" x="760"/><use id="k21-15" href="#lR" x="812"/><use id="k21-16" href="#lR" x="864"/><use id="k21-17" href="#lR" x="916"/><use id="k21-18" href="#lR" x="968"/><use id="k21-19" href="#lR" x="1020"/><use id="k21-20" href="#lR" x="1072"/><use id="k21-21" href="#dR" x="1124"/><use id="k21-22" href="#dR" x="1176"/><use id="k21-23" href="#dR" x="1228"/><use id="k21-24" href="#dR" x="1280"/><use id="k21-25" href="#dR" x="1332"/><use id="k21-26" href="#dR" x="1384"/><use id="k21-27" href="#dR" x="1436"/><use id="k21-28" href="#dR" x="1488"/><use id="k21-29" href="#dR" x="1540"/><use id="k21-30" href="#lR" x="1592"/>
</g>
<g id="row22" transform="translate(0 1154)">
<use id="k22-1" href="#lL" x="84"/><use id="k22-2" href="#dL" x="136"/><use id="k22-3" href="#dL" x="188"/><use id="k22-4" href="#dL" x="240"/><use id="k22-5" href="#dL" x="292"/><use id="k22-6" href="#dL" x="344"/><use id="k22-7" href="#dL" x="396"/><use id="k22-8" href="#dL" x="448"/><use id="k22-9" href="#dL" x="500"/><use id="k22-10" href="#dL" x="552"/><use id="k22-11" href="#lL" x="604"/><use id="k22-12" href="#lL" x="656"/><use id="k22-13" href="#lL" x="708"/><use id="k22-14" href="#lL" x="760"/><use id="k22-15" href="#lL" x="812"/><use id="k22-16" href="#lL" x="864"/><use id="k22-17" href="#lL" x="916"/><use id="k22-18" href="#lL" x="968"/><use id="k22-19" href="#lL" x="1020"/><use id="k22-20" href="#lL" x="1072"/><use id="k22-21" href="#dL" x="1124"/><use id="k22-22" href="#dL" x="1176"/><use id="k22-23" href="#dL" x="1228"/><use id="k22-24" href="#dL" x="1280"/><use id="k22-25" href="#dL" x="1332"/><use id="k22-26" href="#dL" x="1384"/><use id="k22-27" href="#dL" x="1436"/><use id="k22-28" href="#dL" x="1488"/><use id="k22-29" href="#lL" x="1540"/><use id="k22-30" href="#lL" x="1592"/>
</g>
<g id="row23" transform="translate(0 1206)">
<use id="k23-1" href="#lR" x="84"/><use id="k23-2" href="#lR" x="136"/><use id="k23-3" href="#dR" x="188"/><use id="k23-4" href="#dR" x="240"/><use id="k23-5" href="#dR" x="292"/><use id="k23-6" href="#dR" x="344"/><use id="k23-7" href="#dR" x="396"/><use id="k23-8" href="#dR" x="448"/><use id="k23-9" href="#dR" x="500"/><use id="k23-10" href="#dR" x="552"/><use id="k23-11" href="#lR" x="604"/><use id="k23-12" href="#lR" x="656"/><use id="k23-13" href="#lR" x="708"/><use id="k23-14" href="#lR" x="760"/><use id="k23-15" href="#lR" x="812"/><use id="k23-16" href="#lR" x="864"/><use id="k23-17" href="#lR" x="916"/><use id="k23-18" href="#lR" x="968"/><use id="k23-19" href="#lR" x="1020"/><use id="k23-20" href="#lR" x="1072"/><use id="k23-21" href="#dR" x="1124"/><use id="k23-22" href="#dR" x="1176"/><use id="k23-23" href="#dR" x="1228"/><use id="k23-24" href="#dR" x="1280"/><use id="k23-25" href="#dR" x="1332"/><use id="k23-26" href="#dR" x="1384"/><use id="k23-27" href="#dR" x="1436"/><use id="k23-28" href="#dR" x="1488"/><use id="k23-29" href="#lR" x="1540"/><use id="k23-30" href="#lR" x="1592"/>
</g>
<g id="row24" transform="translate(0 1258)">
<use id="k24-1" href="#lL" x="84"/><use id="k24-2" href="#lL" x="136"/><use id="k24-3" href="#dL" x="188"/><use id="k24-4" href="#dL" x="240"/><use id="k24-5" href="#dL" x="292"/><use id="k24-6" href="#dL" x="344"/><use id="k24-7" href="#dL" x="396"/><use id="k24-8" href="#dL" x="448"/><use id="k24-9" href="#dL" x="500"/><use id="k24-10" href="#dL" x="552"/><use id="k24-11" href="#dL" x="604"/><use id="k24-12" href="#lL" x="656"/><use id="k24-13" href="#lL" x="708"/><use id="k24-14" href="#lL" x="760"/><use id="k24-15" href="#lL" x="812"/><use id="k24-16" href="#lL" x="864"/><use id="k24-17" href="#lL" x="916"/><use id="k24-18" href="#lL" x="968"/><use id="k24-19" href="#lL" x="1020"/><use id="k24-20" href="#dL" x="1072"/><use id="k24-21" href="#dL" x="1124"/><use id="k24-22" href="#dL" x="1176"/><use id="k24-23" href="#dL" x="1228"/><use id="k24-24" href="#dL" x="1280"/><use id="k24-25" href="#dL" x="1332"/><use id="k24-26" href="#dL" x="1384"/><use id="k24-27" href="#dL" x="1436"/><use id="k24-28" href="#lL" x="1488"/><use id="k24-29" href="#lL" x="1540"/><use id="k24-30" href="#lL" x="1592"/>
</g>
<g id="row25" transform="translate(0 1310)">
<use id="k25-1" href="#lR" x="84"/><use id="k25-2" href="#lR" x="136"/><use id="k25-3" href="#lR" x="188"/><use id="k25-4" href="#dR" x="240"/><use id="k25-5" href="#dR" x="292"/><use id="k25-6" href="#dR" x="344"/><use id="k25-7" href="#dR" x="396"/><use id="k25-8" href="#dR" x="448"/><use id="k25-9" href="#dR" x="500"/><use id="k25-10" href="#dR" x="552"/><use id="k25-11" href="#dR" x="604"/><use id="k25-12" href="#dR" x="656"/><use id="k25-13" href="#lR" x="708"/><use id="k25-14" href="#lR" x="760"/><use id="k25-15" href="#lR" x="812"/><use id="k25-16" href="#lR" x="864"/><use id="k25-17" href="#lR" x="916"/><use id="k25-18" href="#lR" x="968"/><use id="k25-19" href="#dR" x="1020"/><use id="k25-20" href="#dR" x="1072"/><use id="k25-21" href="#dR" x="1124"/><use id="k25-22" href="#dR" x="1176"/><use id="k25-23" href="#dR" x="1228"/><use id="k25-24" href="#dR" x="1280"/><use id="k25-25" href="#dR" x="1332"/><use id="k25-26" href="#dR" x="1384"/><use id="k25-27" href="#dR" x="1436"/><use id="k25-28" href="#lR" x="1488"/><use id="k25-29" href="#lR" x="1540"/><use id="k25-30" href="#lR" x="1592"/>
</g>
<g id="row26" transform="translate(0 1362)">
<use id="k26-1" href="#lL" x="84"/><use id="k26-2" href="#lL" x="136"/><use id="k26-3" href="#lL" x="188"/><use id="k26-4" href="#lL" x="240"/><use id="k26-5" href="#dL" x="292"/><use id="k26-6" href="#dL" x="344"/><use id="k26-7" href="#dL" x="396"/><use id="k26-8" href="#dL" x="448"/><use id="k26-9" href="#dL" x="500"/><use id="k26-10" href="#dL" x="552"/><use id="k26-11" href="#dL" x="604"/><use id="k26-12" href="#dL" x="656"/><use id="k26-13" href="#dL" x="708"/><use id="k26-14" href="#lL" x="760"/><use id="k26-15" href="#lL" x="812"/><use id="k26-16" href="#lL" x="864"/><use id="k26-17" href="#lL" x="916"/><use id="k26-18" href="#dL" x="968"/><use id="k26-19" href="#dL" x="1020"/><use id="k26-20" href="#dL" x="1072"/><use id="k26-21" href="#dL" x="1124"/><use id="k26-22" href="#dL" x="1176"/><use id="k26-23" href="#dL" x="1228"/><use id="k26-24" href="#dL" x="1280"/><use id="k26-25" href="#dL" x="1332"/><use id="k26-26" href="#dL" x="1384"/><use id="k26-27" href="#lL" x="1436"/><use id="k26-28" href="#lL" x="1488"/><use id="k26-29" href="#lL" x="1540"/><use id="k26-30" href="#lL" x="1592"/>
</g>
<g id="row27" transform="translate(0 1414)">
<use id="k27-1" href="#lR" x="84"/><use id="k27-2" href="#lR" x="136"/><use id="k27-3" href="#lR" x="188"/><use id="k27-4" href="#lR" x="240"/><use id="k27-5" href="#lR" x="292"/><use id="k27-6" href="#dR" x="344"/><use id="k27-7" href="#dR" x="396"/><use id="k27-8" href="#dR" x="448"/><use id="k27-9" href="#dR" x="500"/><use id="k27-10" href="#dR" x="552"/><use id="k27-11" href="#dR" x="604"/><use id="k27-12" href="#dR" x="656"/><use id="k27-13" href="#dR" x="708"/><use id="k27-14" href="#dR" x="760"/><use id="k27-15" href="#dR" x="812"/><use id="k27-16" href="#dR" x="864"/><use id="k27-17" href="#dR" x="916"/><use id="k27-18" href="#dR" x="968"/><use id="k27-19" href="#dR" x="1020"/><use id="k27-20" href="#dR" x="1072"/><use id="k27-21" href="#dR" x="1124"/><use id="k27-22" href="#dR" x="1176"/><use id="k27-23" href="#dR" x="1228"/><use id="k27-24" href="#dR" x="1280"/><use id="k27-25" href="#dR" x="1332"/><use id="k27-26" href="#lR" x="1384"/><use id="k27-27" href="#lR" x="1436"/><use id="k27-28" href="#lR" x="1488"/><use id="k27-29" href="#lR" x="1540"/><use id="k27-30" href="#lR" x="1592"/>
</g>
<g id="row28" transform="translate(0 1466)">
<use id="k28-1" href="#lL" x="84"/><use id="k28-2" href="#lL" x="136"/><use id="k28-3" href="#lL" x="188"/><use id="k28-4" href="#lL" x="240"/><use id="k28-5" href="#lL" x="292"/><use id="k28-6" href="#lL" x="344"/><use id="k28-7" href="#lL" x="396"/><use id="k28-8" href="#dL" x="448"/><use id="k28-9" href="#dL" x="500"/><use id="k28-10" href="#dL" x="552"/><use id="k28-11" href="#dL" x="604"/><use id="k28-12" href="#dL" x="656"/><use id="k28-13" href="#dL" x="708"/><use id="k28-14" href="#dL" x="760"/><use id="k28-15" href="#dL" x="812"/><use id="k28-16" href="#dL" x="864"/><use id="k28-17" href="#dL" x="916"/><use id="k28-18" href="#dL" x="968"/><use id="k28-19" href="#dL" x="1020"/><use id="k28-20" href="#dL" x="1072"/><use id="k28-21" href="#dL" x="1124"/><use id="k28-22" href="#dL" x="1176"/><use id="k28-23" href="#dL" x="1228"/><use id="k28-24" href="#lL" x="1280"/><use id="k28-25" href="#lL" x="1332"/><use id="k28-26" href="#lL" x="1384"/><use id="k28-27" href="#lL" x="1436"/><use id="k28-28" href="#lL" x="1488"/><use id="k28-29" href="#lL" x="1540"/><use id="k28-30" href="#lL" x="1592"/>
</g>
<g id="row29" transform="translate(0 1518)">
<use id="k29-1" href="#lR" x="84"/><use id="k29-2" href="#lR" x="136"/><use id="k29-3" href="#lR" x="188"/><use id="k29-4" href="#lR" x="240"/><use id="k29-5" href="#lR" x="292"/><use id="k29-6" href="#lR" x="344"/><use id="k29-7" href="#lR" x="396"/><use id="k29-8" href="#lR" x="448"/><use id="k29-9" href="#lR" x="500"/><use id="k29-10" href="#dR" x="552"/><use id="k29-11" href="#dR" x="604"/><use id="k29-12" href="#dR" x="656"/><use id="k29-13" href="#dR" x="708"/><use id="k29-14" href="#dR" x="760"/><use id="k29-15" href="#dR" x="812"/><use id="k29-16" href="#dR" x="864"/><use id="k29-17" href="#dR" x="916"/><use id="k29-18" href="#dR" x="968"/><use id="k29-19" href="#dR" x="1020"/><use id="k29-20" href="#dR" x="1072"/><use id="k29-21" href="#dR" x="1124"/><use id="k29-22" href="#lR" x="1176"/><use id="k29-23" href="#lR" x="1228"/><use id="k29-24" href="#lR" x="1280"/><use id="k29-25" href="#lR" x="1332"/><use id="k29-26" href="#lR" x="1384"/><use id="k29-27" href="#lR" x="1436"/><use id="k29-28" href="#lR" x="1488"/><use id="k29-29" href="#lR" x="1540"/><use id="k29-30" href="#lR" x="1592"/>
</g>
<g id="row30" transform="translate(0 1570)">
<use id="k30-1" href="#lL" x="84"/><use id="k30-2" href="#lL" x="136"/><use id="k30-3" href="#lL" x="188"/><use id="k30-4" href="#lL" x="240"/><use id="k30-5" href="#lL" x="292"/><use id="k30-6" href="#lL" x="344"/><use id="k30-7" href="#lL" x="396"/><use id="k30-8" href="#lL" x="448"/><use id="k30-9" href="#lL" x="500"/><use id="k30-10" href="#lL" x="552"/><use id="k30-11" href="#lL" x="604"/><use id="k30-12" href="#dL" x="656"/><use id="k30-13" href="#dL" x="708"/><use id="k30-14" href="#dL" x="760"/><use id="k30-15" href="#dL" x="812"/><use id="k30-16" href="#dL" x="864"/><use id="k30-17" href="#dL" x="916"/><use id="k30-18" href="#dL" x="968"/><use id="k30-19" href="#dL" x="1020"/><use id="k30-20" href="#lL" x="1072"/><use id="k30-21" href="#lL" x="1124"/><use id="k30-22" href="#lL" x="1176"/><use id="k30-23" href="#lL" x="1228"/><use id="k30-24" href="#lL" x="1280"/><use id="k30-25" href="#lL" x="1332"/><use id="k30-26" href="#lL" x="1384"/><use id="k30-27" href="#lL" x="1436"/><use id="k30-28" href="#lL" x="1488"/><use id="k30-29" href="#lL" x="1540"/><use id="k30-30" href="#lL" x="1592"/>
</g>
</g>
<g id="watermark">
<rect x="755" y="808" width="167" height="15" fill="#fff" fill-opacity="0.6"/>
<text x="838" y="821" font-family="Liberation Sans, Arial, sans-serif" font-size="14" font-weight="bold" fill="#333" fill-opacity="0.9" text-anchor="middle">BRACELETBOOK.COM</text>
</g>
</svg>
